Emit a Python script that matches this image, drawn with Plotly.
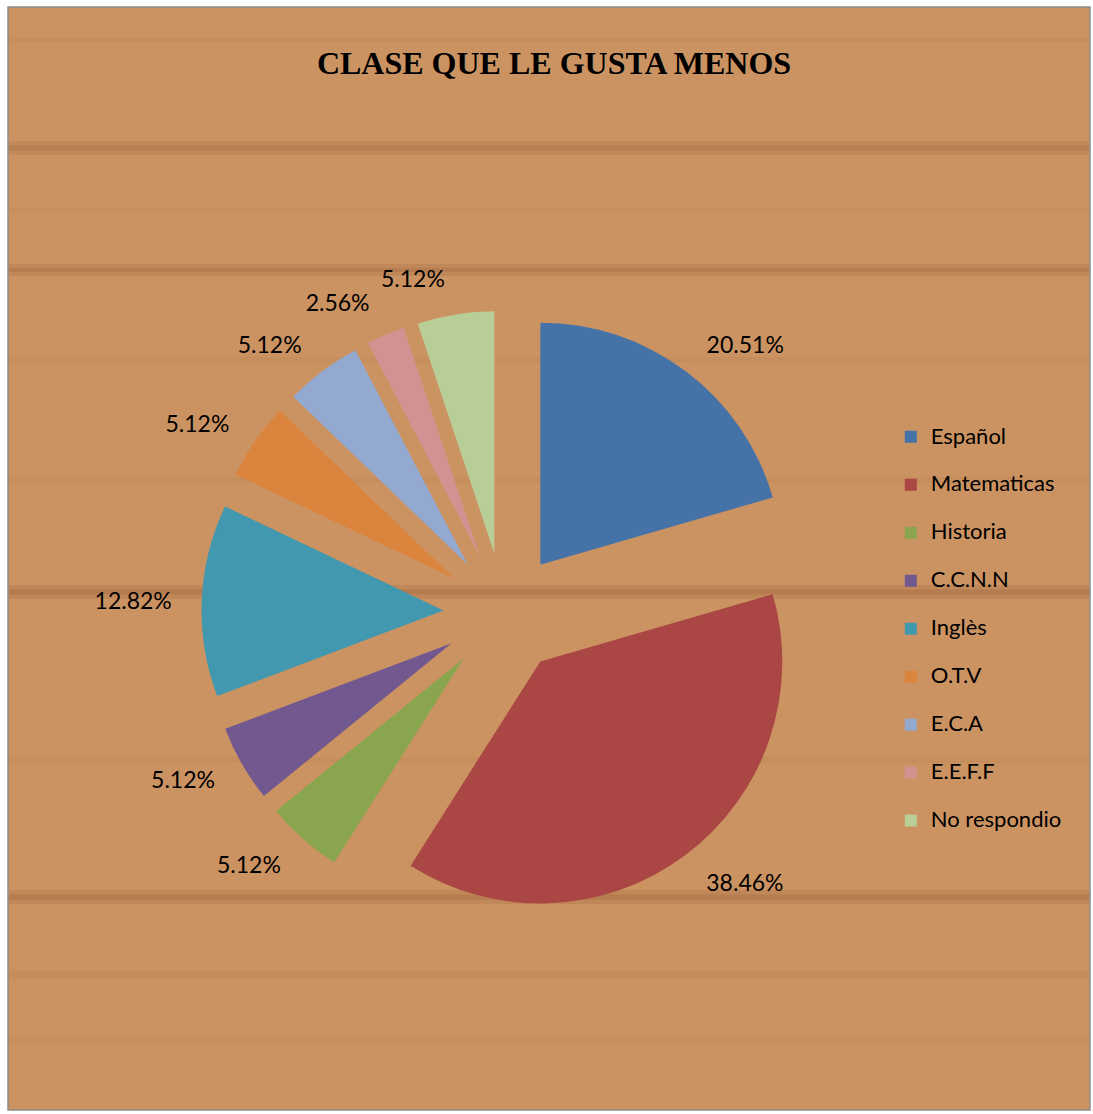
import plotly.graph_objects as go

W, H = 1093, 1114

categories = ["Español", "Matematicas", "Historia", "C.C.N.N", "Inglès",
              "O.T.V", "E.C.A", "E.E.F.F", "No respondio"]
percentages = [20.51, 38.46, 5.12, 5.12, 12.82, 5.12, 5.12, 2.56, 5.12]
colors = ["#4572A7", "#AA4643", "#89A54E", "#71588F", "#4198AF",
          "#DB843D", "#93A9CF", "#D19392", "#B9CD96"]
title_text = "CLASE QUE LE GUSTA MENOS"

legend_labels = ["<span style='font-size:22px'>%s</span><br> " % c for c in categories]

# pie geometry (pixels)
cx, cy, half = 504, 613, 302.5
lab_half = half * 1.076
n = len(percentages)

fig = go.Figure()
# visible exploded pie
fig.add_trace(go.Pie(
    labels=legend_labels,
    values=percentages,
    sort=False,
    direction="clockwise",
    rotation=0,
    pull=[0.25] * n,
    marker=dict(colors=colors, line=dict(width=0)),
    textinfo="none",
    hoverinfo="skip",
    domain=dict(x=[(cx - half) / W, (cx + half) / W],
                y=[1 - (cy + half) / H, 1 - (cy - half) / H]),
))
# transparent copies that only carry the outside percentage labels
# (last label in its own layer so that labels are not pushed apart)
for positions in (["outside"] * (n - 1) + ["none"], ["none"] * (n - 1) + ["outside"]):
    fig.add_trace(go.Pie(
        labels=legend_labels,
        values=percentages,
        sort=False,
        direction="clockwise",
        rotation=0,
        marker=dict(colors=["rgba(0,0,0,0)"] * n, line=dict(width=0)),
        textposition=positions,
        texttemplate="%{value:.2f}%",
        textfont=dict(family="Lato", size=23, color="black"),
        hoverinfo="skip",
        showlegend=False,
        domain=dict(x=[(cx - lab_half) / W, (cx + lab_half) / W],
                    y=[1 - (cy + lab_half) / H, 1 - (cy - lab_half) / H]),
    ))

# wood-like panel background
shapes = [dict(type="rect", xref="paper", yref="paper", x0=8 / W, x1=1090 / W,
               y0=1 - 1110 / H, y1=1 - 7 / H, fillcolor="#cc9362",
               line=dict(color="#8c8c8c", width=1.5), layer="below")]
for yy, hh, op in [(148, 14, 0.10), (148, 5, 0.12), (270, 12, 0.12), (270, 4, 0.14),
                   (592, 14, 0.12), (592, 5, 0.14), (897, 14, 0.12), (897, 5, 0.14),
                   (975, 8, 0.08), (360, 6, 0.06), (480, 6, 0.06), (760, 6, 0.06),
                   (1040, 6, 0.06), (40, 5, 0.06), (210, 5, 0.06)]:
    shapes.append(dict(type="rect", xref="paper", yref="paper", x0=9 / W, x1=1089 / W,
                       y0=1 - (yy + hh / 2) / H, y1=1 - (yy - hh / 2) / H,
                       fillcolor="rgba(110,60,25,%.2f)" % op, line=dict(width=0),
                       layer="below"))

fig.update_layout(
    width=W, height=H,
    margin=dict(l=0, r=0, t=0, b=0),
    paper_bgcolor="white",
    plot_bgcolor="rgba(0,0,0,0)",
    shapes=shapes,
    title=dict(text="<b>%s</b>" % title_text, x=554 / W, xanchor="center",
               y=1 - 63 / H, yanchor="middle",
               font=dict(family="Liberation Serif", size=32, color="black")),
    legend=dict(x=0.815, y=1 - 419 / H, xanchor="left", yanchor="top",
                valign="top", bgcolor="rgba(0,0,0,0)",
                font=dict(family="Lato", size=17.3, color="black")),
    showlegend=True,
)

fig.write_html(
    "out.html",
    config={"displayModeBar": False},
    post_script="document.body.style.margin='0';document.body.style.overflow='hidden';"
                "document.documentElement.style.overflow='hidden';",
)
